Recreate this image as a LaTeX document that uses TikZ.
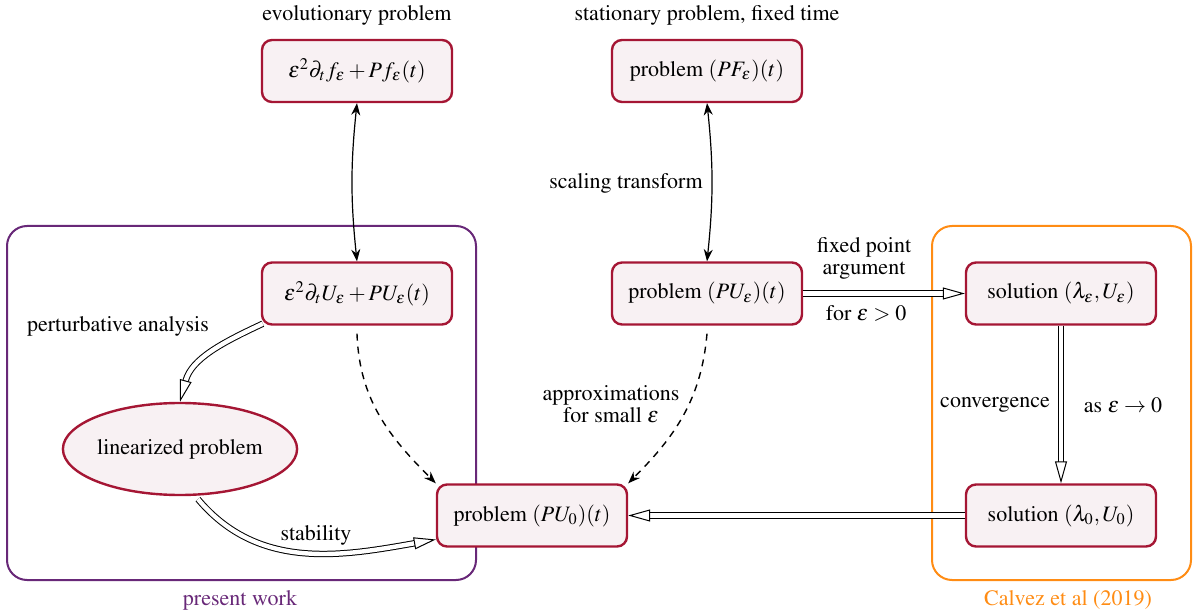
\documentclass[tikz,border=0pt]{standalone}
\usepackage[T1]{fontenc}
\usepackage{mathptmx}
\usetikzlibrary{arrows.meta,shapes.geometric}
\definecolor{boxred}{RGB}{165,22,52}
\definecolor{boxfill}{RGB}{248,241,243}
\definecolor{pwork}{RGB}{104,40,120}
\definecolor{calv}{RGB}{255,140,20}
\tikzset{
  pbox/.style={draw=boxred, fill=boxfill, line width=1.2pt, rounded corners=5pt,
    minimum width=95pt, minimum height=31pt, inner sep=0pt},
  pell/.style={ellipse, draw=boxred, fill=boxfill, line width=1.2pt,
    minimum width=113pt, minimum height=46pt, inner sep=0pt},
  frame/.style={draw, line width=1pt, rounded corners=10pt, inner sep=0pt},
  lbl/.style={inner sep=1pt, align=center},
  bidir/.style={{Stealth[length=6pt,width=4.5pt]}-{Stealth[length=6pt,width=4.5pt]}, line width=0.6pt},
  dasharr/.style={-{Stealth[length=6pt,width=4.5pt]}, dashed, line width=0.7pt, dash pattern=on 3.5pt off 3pt},
  dbl/.style={double distance=2.2pt, line width=0.5pt,
    -{Triangle[length=11pt,width=6pt,line width=0.5pt,fill=white]}},
}
\begin{document}
\begin{tikzpicture}[x=0.5pt,y=-0.5pt, every node/.style={font=\rmfamily\fontsize{11}{13}\selectfont}]
\useasboundingbox (0,0) rectangle (1199,614);
% frames
\node[frame, draw=pwork, minimum width=234.5pt, minimum height=177pt] (pw) at (241.5,403) {};
\node[frame, draw=calv, minimum width=129.5pt, minimum height=177pt] (cz) at (1061.5,403) {};
\node[lbl, text=pwork] (pwl) at (240,600) {present work};
\node[lbl, text=calv] (czl) at (1068,600) {Calvez et al (2019)};
% titles
\node[lbl] (t1) at (357,15) {evolutionary problem};
\node[lbl] (t2) at (707,15) {stationary problem, fixed time};
% boxes
\node[pbox] (f) at (357,71) {$\varepsilon^2\partial_t f_\varepsilon + P f_\varepsilon(t)$};
\node[pbox] (pf) at (707,71) {problem $(PF_\varepsilon)(t)$};
\node[pbox] (ue) at (357,293.5) {$\varepsilon^2\partial_t U_\varepsilon + P U_\varepsilon(t)$};
\node[pbox] (pue) at (707,293.5) {problem $(PU_\varepsilon)(t)$};
\node[pbox] (se) at (1061,293.5) {solution $(\lambda_\varepsilon,U_\varepsilon)$};
\node[pbox] (pu0) at (532,515.5) {problem $(PU_0)(t)$};
\node[pbox] (s0) at (1061,515.5) {solution $(\lambda_0,U_0)$};
\node[pell] (lin) at (180,449) {linearized problem};
% labels
\node[lbl] (l1) at (626,183) {scaling transform};
\node[lbl] (l2) at (864,258) {fixed point\\[-2pt]argument};
\node[lbl] (l3) at (866,313) {for $\varepsilon>0$};
\node[lbl] (l4) at (118,326) {perturbative analysis};
\node[lbl] (l5) at (316,535) {stability};
\node[lbl] (l6) at (611,404) {approximations\\[-2pt]for small $\varepsilon$};
\node[lbl] (l7) at (995,405) {convergence};
\node[lbl] (l8) at (1123,405) {as $\varepsilon\to0$};
% connectors
\draw[bidir] (f.south) to[bend right=6] (ue.north);
\draw[bidir] (pf.south) to[bend left=6] (pue.north);
\draw[dbl] (pue.east) -- (se.west);
\draw[dbl] (se.south) -- (s0.north);
\draw[dbl] (s0.west) -- (pu0.east);
\draw[dbl] (ue.south west) ++(2,-2) to[out=205, in=75] (lin.north);
\draw[dbl] (lin.south) ++(18,3) to[out=-50, in=190] ([yshift=-12]pu0.west);
\draw[dasharr] ([yshift=-4]ue.south) to[out=-88, in=135] (pu0.north west);
\draw[dasharr] ([yshift=-4]pue.south) to[out=-95, in=45] (pu0.north east);
\end{tikzpicture}
\end{document}
